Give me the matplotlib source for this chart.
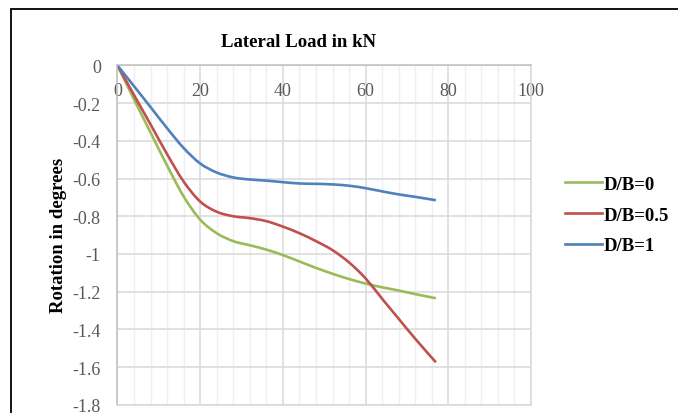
import matplotlib.pyplot as plt
from matplotlib.patches import Rectangle, PathPatch
from matplotlib.path import Path
from matplotlib.lines import Line2D
from matplotlib.ticker import MultipleLocator

# lateral load (kN) and rotation (degrees)
load = [0, 4, 8, 12, 16, 20, 24, 28, 32, 36, 40, 44, 48, 52, 56, 60, 64, 68, 72, 77]
rot_db0 = [0, -0.18, -0.356, -0.531, -0.695, -0.818, -0.89, -0.932, -0.954, -0.977,
           -1.006, -1.04, -1.074, -1.105, -1.133, -1.157, -1.177, -1.194, -1.213, -1.235]
rot_db05 = [0, -0.157, -0.313, -0.471, -0.616, -0.722, -0.776, -0.80, -0.81, -0.826,
            -0.855, -0.89, -0.932, -0.98, -1.045, -1.13, -1.238, -1.344, -1.45, -1.575]
rot_db1 = [0, -0.11, -0.221, -0.333, -0.438, -0.52, -0.568, -0.594, -0.605, -0.611,
           -0.619, -0.626, -0.628, -0.631, -0.638, -0.651, -0.668, -0.684, -0.697, -0.715]

series = [("D/B=0", rot_db0, "#9BBB59"),
          ("D/B=0.5", rot_db05, "#C0504D"),
          ("D/B=1", rot_db1, "#4F81BD")]


def smooth_path(xs, ys):
    # excel-style smoothed line: cubic bezier through every point
    pts = list(zip(xs, ys))
    n = len(pts)
    verts = [pts[0]]
    codes = [Path.MOVETO]
    for i in range(n - 1):
        p0 = pts[max(i - 1, 0)]
        p1 = pts[i]
        p2 = pts[i + 1]
        p3 = pts[min(i + 2, n - 1)]
        c1 = (p1[0] + (p2[0] - p0[0]) / 6, p1[1] + (p2[1] - p0[1]) / 6)
        c2 = (p2[0] - (p3[0] - p1[0]) / 6, p2[1] - (p3[1] - p1[1]) / 6)
        verts += [c1, c2, p2]
        codes += [Path.CURVE4] * 3
    return Path(verts, codes)


plt.rcParams["font.family"] = ["Liberation Serif", "DejaVu Serif"]
plt.rcParams["axes.unicode_minus"] = False

fig = plt.figure(figsize=(6.78, 4.14), dpi=100)
ax = fig.add_axes([0.1733, 0.0200, 0.6099, 0.8194])

handles = []
for name, vals, col in series:
    ax.add_patch(PathPatch(smooth_path(load, vals), fill=False, edgecolor=col,
                           lw=1.9, capstyle="butt"))
    handles.append(Line2D([], [], color=col, lw=1.9, label=name))

ax.set_xlim(0, 100)
ax.set_ylim(-1.8, 0)
ax.xaxis.set_major_locator(MultipleLocator(20))
ax.xaxis.set_minor_locator(MultipleLocator(4))
ax.yaxis.set_major_locator(MultipleLocator(0.2))

ax.grid(which="major", color="#D9D9D9", lw=1.1)
ax.grid(which="minor", axis="x", color="#EFEFEF", lw=1.0)
ax.set_axisbelow(True)

for s in ["right", "bottom"]:
    ax.spines[s].set_color("#D9D9D9")
    ax.spines[s].set_linewidth(1.1)
for s in ["left", "top"]:
    ax.spines[s].set_color("#BFBFBF")
    ax.spines[s].set_linewidth(1.1)

ax.tick_params(which="both", length=0)
ax.tick_params(axis="x", labelbottom=False, labeltop=True, pad=-24,
               labelsize=13, labelcolor="#595959")
ax.tick_params(axis="y", pad=12, labelsize=13, labelcolor="#595959")

ax.yaxis.set_major_formatter(plt.FuncFormatter(lambda v, p: "%g" % round(v, 1)))

fig.text(0.44, 0.898, "Lateral Load in kN", ha="center", va="center",
         fontsize=13.5, fontweight="bold")
fig.text(0.087, 0.432, "Rotation in degrees", ha="center", va="center",
         rotation=90, fontsize=13.5, fontweight="bold")

leg = fig.legend(handles=handles, loc="center left", bbox_to_anchor=(0.833, 0.478),
                 frameon=False, prop={"size": 13.5, "weight": "bold"},
                 handlelength=2.0, handletextpad=0.1, labelspacing=0.72,
                 borderaxespad=0, borderpad=0)

fig.patches.append(Rectangle((0.0162, -0.1), 1.2, 0.977 + 0.1, transform=fig.transFigure,
                             fill=False, edgecolor="black", lw=1.3))

fig.savefig("out.png", dpi=100)
